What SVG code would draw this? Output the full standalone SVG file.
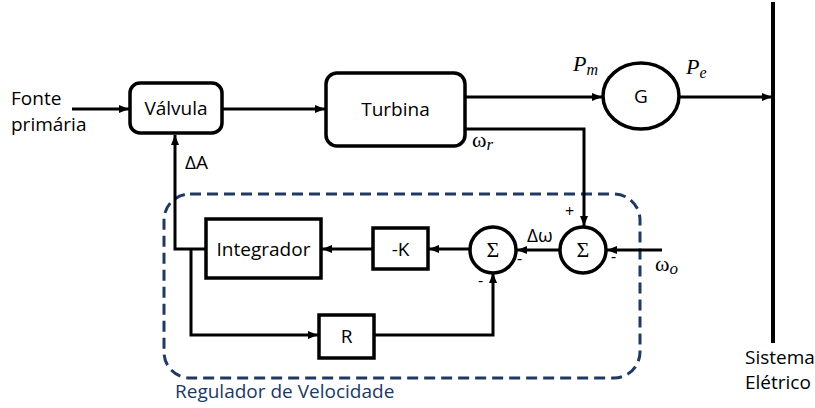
<svg xmlns="http://www.w3.org/2000/svg" width="815" height="408" viewBox="0 0 815 408">
<style>
.box{fill:#fff;stroke:#000;stroke-width:3.5}
.ln{fill:none;stroke:#000;stroke-width:3}
.t{font-family:"Open Sans","Liberation Sans",sans-serif;font-size:19px;fill:#000}
.m{font-family:"Liberation Serif","DejaVu Serif",serif;font-size:22px;fill:#000}
.mi{font-family:"Liberation Serif","DejaVu Serif",serif;font-style:italic;fill:#000}
.s{font-family:"Open Sans","Liberation Sans",sans-serif;font-size:16px;fill:#000}
</style>
<defs>
<marker id="ah" markerUnits="userSpaceOnUse" viewBox="0 0 10 8" refX="10" refY="4" markerWidth="10" markerHeight="8" orient="auto">
<path d="M0,0 L10,4 L0,8 z" fill="#000"/>
</marker>
</defs>
<rect x="0" y="0" width="815" height="408" fill="#fff"/>
<g id="regulador">
<rect x="164" y="194" width="476" height="184" rx="26" fill="none" stroke="#203864" stroke-width="3" stroke-dasharray="11 6"/>
<text x="175" y="398" class="t" style="fill:#203864">Regulador de Velocidade</text>
</g>
<g id="connectors">
<path class="ln" d="M72,109 H129" marker-end="url(#ah)"/>
<path class="ln" d="M223,109 H325" marker-end="url(#ah)"/>
<path class="ln" d="M466,97 H602" marker-end="url(#ah)"/>
<path class="ln" d="M679,97 H772" marker-end="url(#ah)"/>
<path class="ln" d="M466,129 H584 V226" marker-end="url(#ah)"/>
<path class="ln" d="M662,250 H607" marker-end="url(#ah)"/>
<path class="ln" d="M559,250 H517" marker-end="url(#ah)"/>
<path class="ln" d="M469,249 H429" marker-end="url(#ah)"/>
<path class="ln" d="M373,249 H322" marker-end="url(#ah)"/>
<path class="ln" d="M206,249 H175 V135" marker-end="url(#ah)"/>
<path class="ln" d="M191,249 V335 H318" marker-end="url(#ah)"/>
<path class="ln" d="M374,335 H493 V273" marker-end="url(#ah)"/>
</g>
<g id="fonte">
<text x="11" y="105" class="t">Fonte</text>
<text x="11" y="131" class="t">primária</text>
</g>
<g id="valvula">
<rect x="130" y="83" width="92" height="50" rx="10" class="box"/>
<text x="176" y="115" class="t" text-anchor="middle">Válvula</text>
</g>
<g id="turbina">
<rect x="326" y="73" width="139" height="73" rx="11" class="box"/>
<text x="395.5" y="116" class="t" text-anchor="middle">Turbina</text>
</g>
<g id="gerador">
<ellipse cx="641" cy="96" rx="38" ry="33" class="box"/>
<text x="641" y="103" class="t" text-anchor="middle">G</text>
</g>
<g id="sistema">
<path d="M773,2 V343" stroke="#000" stroke-width="4"/>
<text x="745" y="364" class="t">Sistema</text>
<text x="745" y="389" class="t">Elétrico</text>
</g>
<g id="soma2">
<circle cx="583" cy="250" r="23" class="box"/>
<text x="583" y="257" class="m" text-anchor="middle">Σ</text>
</g>
<g id="soma1">
<circle cx="493" cy="250" r="23" class="box"/>
<text x="493" y="257" class="m" text-anchor="middle">Σ</text>
</g>
<g id="k">
<rect x="373" y="228" width="55" height="41" class="box"/>
<text x="400.5" y="256" class="t" text-anchor="middle">-K</text>
</g>
<g id="integrador">
<rect x="206" y="219" width="115" height="59" class="box"/>
<text x="263.5" y="256" class="t" text-anchor="middle">Integrador</text>
</g>
<g id="r">
<rect x="319" y="315" width="55" height="43" class="box"/>
<text x="346.5" y="343" class="t" text-anchor="middle">R</text>
</g>
<g id="labels">
<text x="573" y="71" class="mi" font-size="22">P<tspan font-size="16" dy="4">m</tspan></text>
<text x="686" y="74" class="mi" font-size="22">P<tspan font-size="16" dy="4">e</tspan></text>
<text x="472" y="147" class="m" font-size="21">ω<tspan class="mi" font-size="17" dy="3">r</tspan></text>
<text x="185" y="169" class="t" font-size="18">ΔA</text>
<text x="527" y="242" class="t" font-size="18">Δω</text>
<text x="655" y="271" class="m" font-size="21">ω<tspan class="mi" font-size="17" dy="3">o</tspan></text>
<text x="565" y="217" class="s">+</text>
<text x="611" y="262" class="s">-</text>
<text x="517" y="264" class="s">-</text>
<text x="478" y="286" class="s">-</text>
</g>
</svg>
